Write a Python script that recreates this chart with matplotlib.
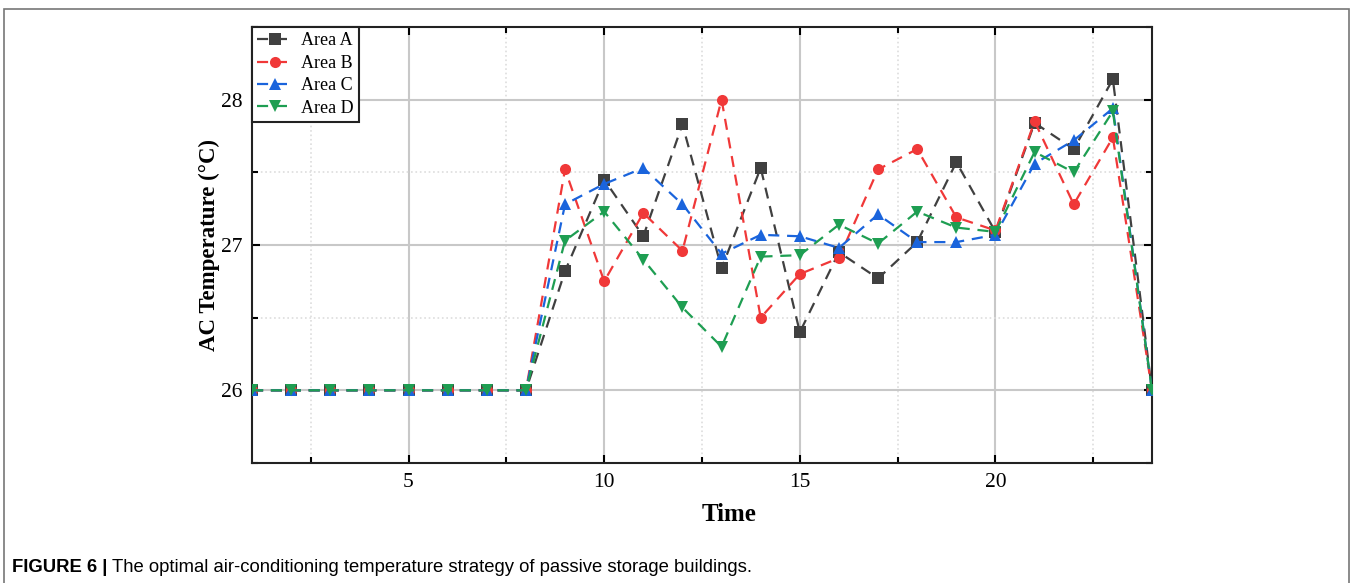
import matplotlib
matplotlib.use("Agg")
import matplotlib.pyplot as plt
from matplotlib.patches import Rectangle
from matplotlib.ticker import MultipleLocator

hours = list(range(1, 25))
area_a = [26, 26, 26, 26, 26, 26, 26, 26, 26.82, 27.45, 27.06, 27.83, 26.84, 27.53,
          26.40, 26.95, 26.77, 27.02, 27.57, 27.09, 27.84, 27.66, 28.14, 26]
area_b = [26, 26, 26, 26, 26, 26, 26, 26, 27.52, 26.75, 27.22, 26.96, 28.00, 26.50,
          26.80, 26.91, 27.52, 27.66, 27.19, 27.10, 27.85, 27.28, 27.74, 26]
area_c = [26, 26, 26, 26, 26, 26, 26, 26, 27.28, 27.42, 27.53, 27.28, 26.94, 27.07,
          27.06, 26.98, 27.21, 27.02, 27.02, 27.07, 27.56, 27.72, 27.94, 26]
area_d = [26, 26, 26, 26, 26, 26, 26, 26, 27.03, 27.23, 26.90, 26.57, 26.30, 26.92,
          26.93, 27.14, 27.01, 27.23, 27.12, 27.09, 27.64, 27.50, 27.92, 26]
series_names = ["Area A", "Area B", "Area C", "Area D"]
colors = ["#404040", "#f03838", "#1a64dc", "#1e9e52"]
markers = ["s", "o", "^", "v"]

serif = ["Liberation Serif", "DejaVu Serif"]
sans = ["Liberation Sans", "DejaVu Sans"]

fig = plt.figure(figsize=(13.52, 5.83), dpi=100)
ax = fig.add_axes([252/1352, 1-463/583, 900/1352, 436/583])

for vals, name, c, m in zip([area_a, area_b, area_c, area_d], series_names, colors, markers):
    ax.plot(hours, vals, linestyle=(0, (5, 3.5)), color=c, lw=1.6, marker=m,
            markersize=8, markeredgewidth=0, label=name, zorder=3)

ax.set_xlim(1, 24)
ax.set_ylim(25.5, 28.5)
ax.xaxis.set_major_locator(MultipleLocator(5))
ax.xaxis.set_minor_locator(MultipleLocator(2.5))
ax.yaxis.set_major_locator(MultipleLocator(1))
ax.yaxis.set_minor_locator(MultipleLocator(0.5))
ax.grid(which="major", color="#c8c8c8", lw=1.5, zorder=0)
ax.grid(which="minor", color="#dddddd", lw=1.2, linestyle=":", zorder=0)
ax.set_axisbelow(True)

ax.tick_params(which="both", direction="in", top=True, right=True, width=1.5,
               labelsize=15.5, pad=7)
ax.tick_params(which="major", length=6)
ax.tick_params(which="minor", length=4)
for lab in ax.get_xticklabels() + ax.get_yticklabels():
    lab.set_family(serif)
for sp in ax.spines.values():
    sp.set_linewidth(1.5)
    sp.set_color("#222222")

ax.set_xlabel("Time", fontsize=18, fontweight="bold", family=serif)
ax.xaxis.set_label_coords((729-252)/900, -(503-463)/436)
ax.set_ylabel("AC Temperature (°C)", fontsize=16.5, fontweight="bold", family=serif)
ax.yaxis.set_label_coords(-(252-220)/900, 0.5)

leg = ax.legend(loc="upper left", prop={"family": serif, "size": 13}, frameon=True,
                fancybox=False, edgecolor="#222222", borderaxespad=0, borderpad=0.3,
                handlelength=2.0, handletextpad=0.4, labelspacing=0.3)
leg.get_frame().set_linewidth(1.5)
leg.get_frame().set_alpha(1)

fig.patches.append(Rectangle((4/1352, -0.01), 1345/1352, 1.01 - 9/583,
                             transform=fig.transFigure, fill=False,
                             edgecolor="#777777", lw=1.2))

t1 = fig.text(12/1352, 1-568/583, "FIGURE 6 |", fontsize=13.3, fontweight="bold",
              family=sans, va="center", ha="left")
fig.canvas.draw()
bb = t1.get_window_extent()
fig.text((bb.x1 + 5)/1352, 1-568/583,
         "The optimal air-conditioning temperature strategy of passive storage buildings.",
         fontsize=13.3, family=sans, va="center", ha="left")

fig.savefig("out.png", dpi=100)
